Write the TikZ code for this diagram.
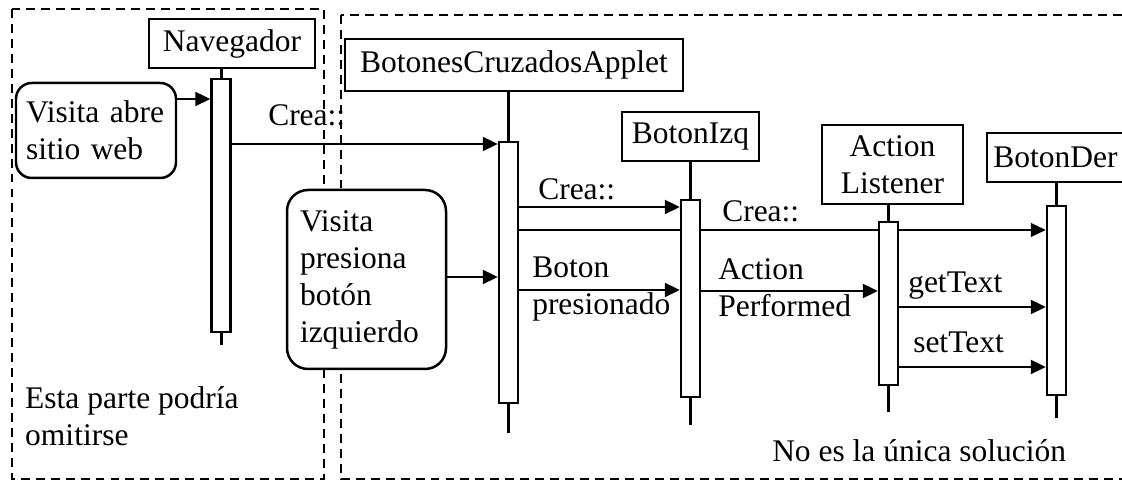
\documentclass[tikz,border=0pt]{standalone}
\usepackage{fontspec}
\setmainfont{Liberation Serif}
\usetikzlibrary{arrows.meta, positioning, backgrounds}
\newdimen\px
\px=0.381pt

\begin{document}
\begin{tikzpicture}[x=0.381pt, y=-0.381pt, line width=0.95pt, >={Triangle[length=5.7pt, width=5.3pt]},
	font=\fontsize{12}{14.1}\selectfont,
	obj/.style={draw, fill=white, inner sep=0pt, align=center},
	bar/.style={draw, fill=white, inner sep=0pt, minimum width=19\px},
	actor/.style={draw, fill=white, inner sep=0pt, align=left},
	lbl/.style={anchor=base west, inner sep=0pt, align=left},
	frame/.style={dash pattern=on 3.4pt off 2.3pt}]
	
	\useasboundingbox (0,0) rectangle (1122,482);
	
	% Frames
	\draw[frame] (12,9) rectangle (324,479);
	\draw[frame] (341,15) rectangle (1135,479);
	
	% Objects
	\node[obj, minimum width=166\px, minimum height=49\px] (nav) at (232,43.5) {Navegador};
	\node[obj, minimum width=338\px, minimum height=52\px] (bca) at (514,65) {BotonesCruzadosApplet};
	\node[obj, minimum width=137\px, minimum height=49\px] (izq) at (690.5,136.5) {BotonIzq};
	\node[obj, minimum width=141\px, minimum height=79\px] (al) at (892.5,164.5) {Action\\Listener};
	\node[obj, minimum width=137\px, minimum height=49\px] (der) at (1055.5,157.5) {BotonDer};
	
	% Lifelines
	\coordinate (nav-fin) at (221.5,345);
	\coordinate (bca-fin) at (508.5,433);
	\coordinate (izq-fin) at (690.5,425);
	\coordinate (al-fin) at (888.5,412);
	\coordinate (der-fin) at (1056.5,418);
	\foreach \o in {nav,bca,izq,al,der}
		\draw (\o.south -| \o-fin) -- (\o-fin);
	
	% Activations
	\node[bar, minimum height=253\px] (navbar) at (221,205.5) {};
	\node[bar, minimum height=261\px] (bcabar) at (508.5,272.5) {};
	\node[bar, minimum height=197\px] (izqbar) at (690.5,298.5) {};
	\node[bar, minimum height=163\px] (albar) at (888.5,303.5) {};
	\node[bar, minimum height=189\px] (derbar) at (1056.5,300.5) {};
	
	% Actors
	\node[actor, rounded corners=6pt, minimum width=160\px, minimum height=95\px, text width=140\px] (v1) at (96,130.5) {Visita abre\\sitio web};
	\node[actor, rounded corners=8pt, minimum width=159\px, minimum height=179\px, text width=133\px] (v2) at (366.5,279.5) {Visita\\presiona\\botón\\izquierdo};
	
	% Messages
	\draw[->] (v1.east |- 0,99) -- (navbar.west |- 0,99);
	\draw[->] (navbar.east |- 0,144) -- (bcabar.west |- 0,144);
	\draw[->] (v2.east |- 0,277) -- (bcabar.west |- 0,277);
	\draw[->] (bcabar.east |- 0,207) -- (izqbar.west |- 0,207);
	\begin{scope}[on background layer]
		\draw[->] (bcabar.east |- 0,230) -- (derbar.west |- 0,230);
	\end{scope}
	\draw[->] (bcabar.east |- 0,290) -- (izqbar.west |- 0,290);
	\draw[->] (izqbar.east |- 0,291) -- (albar.west |- 0,291);
	\draw[->] (albar.east |- 0,307) -- (derbar.west |- 0,307);
	\draw[->] (albar.east |- 0,367) -- (derbar.west |- 0,367);
	
	% Labels
	\node[lbl] (crea1) at (267,126) {Crea::};
	\node[lbl] (crea2) at (537,200) {Crea::};
	\node[lbl] (crea3) at (721,222) {Crea::};
	\node[lbl] (boton) at (531,315) {Boton\\presionado};
	\node[lbl] (action) at (717,317) {Action\\Performed};
	\node[lbl] (get) at (907,293) {getText};
	\node[lbl] (set) at (912,353) {setText};
	\node[lbl] (nota1) at (24,446) {Esta parte podría\\omitirse};
	\node[lbl] (nota2) at (771,462) {No es la única solución};
	
\end{tikzpicture}
\end{document}
